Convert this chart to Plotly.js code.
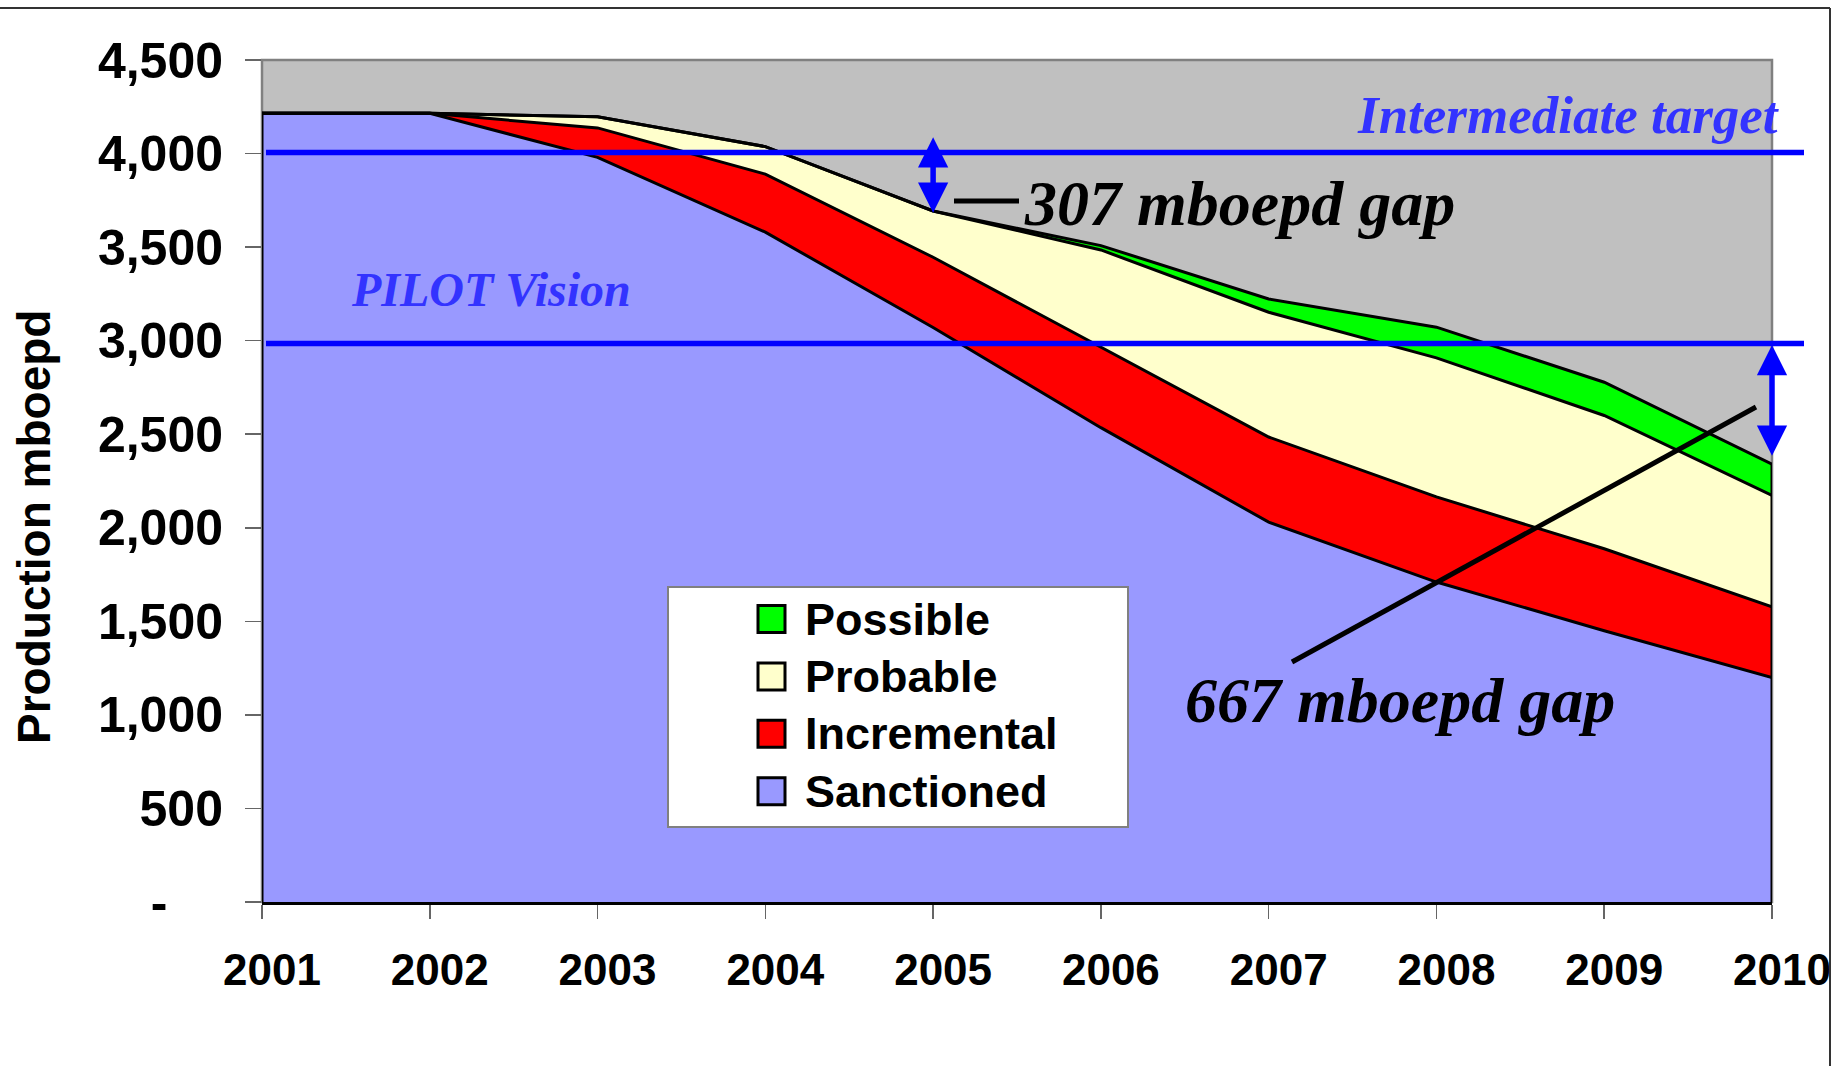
<!DOCTYPE html>
<html>
<head>
<meta charset="utf-8">
<script src="https://cdn.plot.ly/plotly-3.0.1.min.js"></script>
<style>
  html, body { margin: 0; padding: 0; background: #ffffff; }
  #chart { width: 1835px; height: 1066px; }
</style>
</head>
<body>
<div id="chart"></div>
<script>
// ---------------- data ----------------
const years = [2001, 2002, 2003, 2004, 2005, 2006, 2007, 2008, 2009, 2010];
const sanctioned  = [4215, 4215, 3980, 3580, 3070, 2535, 2030, 1710, 1450, 1200];
const incremental = [0, 0, 157, 310, 376, 430, 455, 455, 438, 377];
const probable    = [0, 0, 60, 147, 247, 520, 667, 743, 712, 596];
const possible    = [0, 0, 0, 0, 0, 23, 71, 164, 178, 167];

const seriesNames  = ['Sanctioned', 'Incremental', 'Probable', 'Possible'];
const seriesColors = ['#9999FF', '#FF0000', '#FFFFCC', '#00FF00'];

const intermediateTarget = 4005;
const pilotVision = 2985;
const gapLabels = ['307 mboepd gap', '667 mboepd gap'];
const targetLabels = ['Intermediate target', 'PILOT Vision'];

const yTickVals = [0, 500, 1000, 1500, 2000, 2500, 3000, 3500, 4000, 4500];
const yTickText = ['-\u00A0\u00A0\u00A0\u00A0', '500', '1,000', '1,500', '2,000', '2,500', '3,000', '3,500', '4,000', '4,500'];
const xTickText = years.map(String);

// ---------------- layout helpers ----------------
const W = 1835, H = 1066, L = 262, R = 63, T = 60, B = 164;
const pw = W - L - R, ph = H - T - B;
const px2x = px => (px - L) / pw;
const px2y = py => (H - B - py) / ph;

const SANS = 'Liberation Sans, Arial, sans-serif';
const SERIF = 'Liberation Serif, Times New Roman, serif';

const seriesData = [sanctioned, incremental, probable, possible];
const totals = years.map((_, i) => seriesData.reduce((s, arr) => s + arr[i], 0));
const last = years.length - 1;
const i2005 = years.indexOf(2005);

// ---------------- traces ----------------
const traces = seriesData.map((arr, k) => ({
  type: 'scatter',
  mode: 'lines',
  x: years,
  y: arr,
  name: seriesNames[k],
  stackgroup: 'prod',
  fillcolor: seriesColors[k],
  line: { color: '#000000', width: 3 },
  hoverinfo: 'skip',
  showlegend: false
}));

// vertical outline edges at both ends of the stacked area
[0, last].forEach(i => {
  traces.push({
    type: 'scatter', mode: 'lines',
    x: [years[i], years[i]], y: [0, totals[i]],
    line: { color: '#000000', width: 3 },
    cliponaxis: false, hoverinfo: 'skip', showlegend: false
  });
});

// ---------------- shapes ----------------
const shapes = [
  { type: 'rect', xref: 'paper', yref: 'paper', x0: 0, x1: 1, y0: 0, y1: 1,
    line: { color: '#808080', width: 2.5 }, fillcolor: 'rgba(0,0,0,0)', layer: 'below' },
  { type: 'line', xref: 'paper', yref: 'y', x0: px2x(266), x1: px2x(1804),
    y0: intermediateTarget, y1: intermediateTarget, line: { color: '#0000FF', width: 5.5 } },
  { type: 'line', xref: 'paper', yref: 'y', x0: px2x(266), x1: px2x(1804),
    y0: pilotVision, y1: pilotVision, line: { color: '#0000FF', width: 5.5 } },
  { type: 'line', xref: 'paper', yref: 'paper', x0: px2x(954), x1: px2x(1019),
    y0: px2y(201), y1: px2y(201), line: { color: '#000000', width: 5 } },
  { type: 'line', xref: 'paper', yref: 'paper', x0: px2x(1292), x1: px2x(1756),
    y0: px2y(662), y1: px2y(407), line: { color: '#000000', width: 5 } },
  { type: 'line', xref: 'paper', yref: 'paper', x0: px2x(0), x1: px2x(1830),
    y0: px2y(8), y1: px2y(8), line: { color: '#333333', width: 2 } },
  { type: 'line', xref: 'paper', yref: 'paper', x0: px2x(1830), x1: px2x(1830),
    y0: px2y(8), y1: px2y(1066), line: { color: '#333333', width: 2 } },
  { type: 'rect', xref: 'paper', yref: 'paper', x0: px2x(668), x1: px2x(1128),
    y0: px2y(827), y1: px2y(587), fillcolor: '#FFFFFF', line: { color: '#808080', width: 2 } }
];

const legendTop = 619, legendStep = 57.4, sq = 13.5;
const legendOrder = [3, 2, 1, 0];
legendOrder.forEach((k, j) => {
  const cy = legendTop + j * legendStep;
  shapes.push({ type: 'rect', xref: 'paper', yref: 'paper',
    x0: px2x(758), x1: px2x(785), y0: px2y(cy + sq), y1: px2y(cy - sq),
    fillcolor: seriesColors[k], line: { color: '#000000', width: 3 } });
});

// ---------------- annotations ----------------
const arrowStyle = {
  xref: 'x', yref: 'y', axref: 'x', ayref: 'y', text: '', showarrow: true,
  arrowside: 'end+start', arrowhead: 2, startarrowhead: 2,
  arrowsize: 1.1, startarrowsize: 1.1, arrowwidth: 5.5, arrowcolor: '#0000FF'
};

const annotations = [
  { xref: 'paper', yref: 'paper', x: px2x(34), y: px2y(527), text: 'Production mboepd',
    textangle: -90, showarrow: false, xanchor: 'center', yanchor: 'middle',
    font: { family: SANS, size: 46, color: '#000000', weight: 'bold' } },
  { xref: 'paper', yref: 'paper', x: px2x(1782), y: px2y(115), text: targetLabels[0],
    showarrow: false, xanchor: 'right', yanchor: 'middle',
    font: { family: SERIF, size: 53, color: '#3333FF', weight: 'bold', style: 'italic' } },
  { xref: 'paper', yref: 'paper', x: px2x(349), y: px2y(289), text: targetLabels[1],
    showarrow: false, xanchor: 'left', yanchor: 'middle',
    font: { family: SERIF, size: 48, color: '#3333FF', weight: 'bold', style: 'italic' } },
  { xref: 'paper', yref: 'paper', x: px2x(1022), y: px2y(203), text: gapLabels[0],
    showarrow: false, xanchor: 'left', yanchor: 'middle',
    font: { family: SERIF, size: 64, color: '#000000', weight: 'bold', style: 'italic' } },
  { xref: 'paper', yref: 'paper', x: px2x(1183), y: px2y(700), text: gapLabels[1],
    showarrow: false, xanchor: 'left', yanchor: 'middle',
    font: { family: SERIF, size: 64, color: '#000000', weight: 'bold', style: 'italic' } },
  Object.assign({ x: years[i2005], y: totals[i2005] - 10, ax: years[i2005], ay: intermediateTarget + 90 }, arrowStyle),
  Object.assign({ x: years[last], y: totals[last] + 45, ax: years[last], ay: pilotVision }, arrowStyle)
];

legendOrder.forEach((k, j) => {
  annotations.push({ xref: 'paper', yref: 'paper', x: px2x(803), y: px2y(legendTop + j * legendStep),
    text: seriesNames[k], showarrow: false, xanchor: 'left', yanchor: 'middle',
    font: { family: SANS, size: 45, color: '#000000', weight: 'bold' } });
});

// ---------------- layout ----------------
const layout = {
  width: W, height: H,
  margin: { l: L, r: R, t: T, b: B, pad: 0 },
  paper_bgcolor: '#FFFFFF',
  plot_bgcolor: '#C0C0C0',
  showlegend: false,
  xaxis: {
    range: [years[0], years[last]],
    tickmode: 'array', tickvals: years, ticktext: xTickText,
    ticks: 'outside', ticklen: 14, tickwidth: 1.5, tickcolor: '#666666',
    ticklabelstandoff: 13, ticklabelshift: 10,
    tickfont: { family: SANS, size: 44, color: '#000000', weight: 'bold' },
    showgrid: false, zeroline: false,
    showline: true, linecolor: '#000000', linewidth: 3,
    fixedrange: true
  },
  yaxis: {
    range: [0, 4500],
    tickmode: 'array', tickvals: yTickVals, ticktext: yTickText,
    ticks: 'outside', ticklen: 16, tickwidth: 1.5, tickcolor: '#666666',
    ticklabelstandoff: 12,
    tickfont: { family: SANS, size: 50, color: '#000000', weight: 'bold' },
    showgrid: false, zeroline: false, showline: false,
    fixedrange: true
  },
  shapes: shapes,
  annotations: annotations
};

Plotly.newPlot('chart', traces, layout, { displayModeBar: false, staticPlot: true });
</script>
</body>
</html>
